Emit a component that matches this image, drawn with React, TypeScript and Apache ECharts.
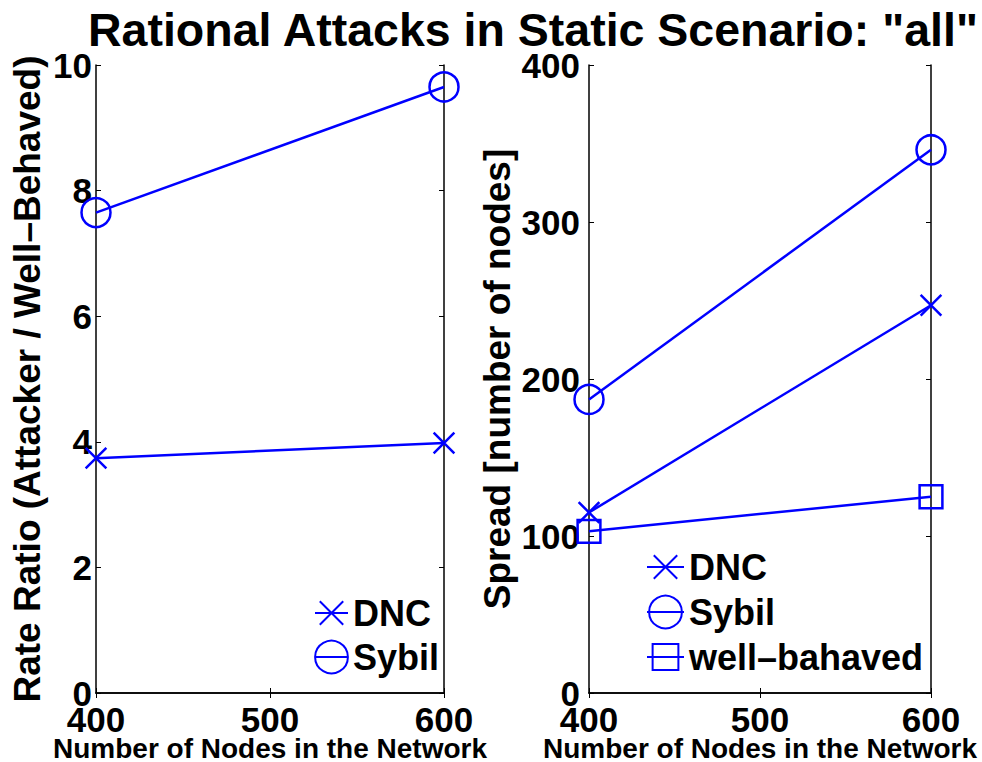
import React, { useEffect, useRef } from "react";
import * as echarts from "echarts";

const xValues = [400, 600];
const rateDNC = [3.74, 3.98];
const rateSybil = [7.65, 9.65];
const spreadDNC = [115, 247];
const spreadSybil = [187, 346];
const spreadWell = [103, 125];

const rateTicks = [0, 2, 4, 6, 8, 10];
const spreadTicks = [0, 100, 200, 300, 400];

const BLUE = "#0000ff";
const FONT = "Liberation Sans";
const CROSS = "path://M-7,-7M7,7M-5,-5L5,5M5,-5L-5,5";
const SQUARE = "path://M-7,-7M7,7M-5.5,-5.5L5.5,-5.5L5.5,5.5L-5.5,5.5Z";

function pts(ys: number[]) {
  return xValues.map((x, i) => [x, ys[i]]);
}

function makeSeries(name: string, ys: number[], symbol: string, idx: number) {
  return {
    type: "line",
    name,
    data: pts(ys),
    xAxisIndex: idx,
    yAxisIndex: idx,
    symbol,
    symbolSize: 29,
    clip: false,
    lineStyle: { color: BLUE, width: 2.5 },
    itemStyle: { color: "rgba(0,0,0,0)", borderColor: BLUE, borderWidth: 2.5 },
    emphasis: { disabled: true },
  };
}

export default function App() {
  const ref = useRef<HTMLDivElement>(null);
  useEffect(() => {
    if (!ref.current) return;
    const chart = echarts.init(ref.current, undefined, { renderer: "svg" });
    const labelStyle = { fontFamily: FONT, fontWeight: "bold", fontSize: 35, color: "#000" };
    const lineAx = { show: true, lineStyle: { color: "#000", width: 1.5 } };
    const tickAx = { show: true, inside: true, length: 5, lineStyle: { color: "#000", width: 1 } };
    const xAx = (gi: number) => ({
      type: "value",
      gridIndex: gi,
      min: 400,
      max: 600,
      interval: 100,
      position: "bottom",
      axisLine: lineAx,
      axisTick: tickAx,
      splitLine: { show: false },
      axisLabel: { ...labelStyle, margin: 9 },
      name: "Number of Nodes in the Network",
      nameLocation: "middle",
      nameGap: 41,
      nameMoveOverlap: false,
      nameTextStyle: { fontFamily: FONT, fontWeight: "bold", fontSize: 28, color: "#000" },
    });
    const xTop = (gi: number) => ({
      type: "value",
      gridIndex: gi,
      min: 400,
      max: 600,
      interval: 100,
      position: "top",
      axisLine: lineAx,
      axisTick: tickAx,
      splitLine: { show: false },
      axisLabel: { show: false },
    });
    const yAx = (gi: number, max: number, interval: number, name: string, gap: number, margin: number) => ({
      type: "value",
      gridIndex: gi,
      min: 0,
      max,
      interval,
      position: "left",
      axisLine: lineAx,
      axisTick: tickAx,
      splitLine: { show: false },
      axisLabel: { ...labelStyle, margin },
      name,
      nameLocation: "middle",
      nameGap: gap,
      nameMoveOverlap: false,
      nameTextStyle: { fontFamily: FONT, fontWeight: "bold", fontSize: 37, color: "#000" },
    });
    const yRight = (gi: number, max: number, interval: number) => ({
      type: "value",
      gridIndex: gi,
      min: 0,
      max,
      interval,
      position: "right",
      axisLine: lineAx,
      axisTick: tickAx,
      splitLine: { show: false },
      axisLabel: { show: false },
    });
    const legendText = { fontFamily: FONT, fontWeight: "bold", fontSize: 36, color: "#000" };
    chart.setOption({
      animation: false,
      backgroundColor: "#fff",
      title: {
        text: 'Rational Attacks in Static Scenario: "all"',
        left: 88,
        top: 6,
        padding: 0,
        textStyle: { fontFamily: FONT, fontWeight: "bold", fontSize: 46.5, color: "#000" },
      },
      grid: [
        { left: 96, top: 65, width: 348, height: 628, outerBoundsMode: "none", containLabel: false },
        { left: 589, top: 65, width: 342, height: 628, outerBoundsMode: "none", containLabel: false },
      ],
      xAxis: [xAx(0), xAx(1), xTop(0), xTop(1)],
      yAxis: [
        yAx(0, rateTicks[rateTicks.length - 1], rateTicks[1] - rateTicks[0], "Rate Ratio (Attacker / Well\u2013Behaved)", 50, 4),
        yAx(1, spreadTicks[spreadTicks.length - 1], spreadTicks[1] - spreadTicks[0], "Spread [number of nodes]", 73, 9),
        yRight(0, rateTicks[rateTicks.length - 1], rateTicks[1] - rateTicks[0]),
        yRight(1, spreadTicks[spreadTicks.length - 1], spreadTicks[1] - spreadTicks[0]),
      ],
      legend: [
        {
          orient: "vertical",
          left: 314,
          top: 595,
          padding: 0,
          itemWidth: 33,
          itemHeight: 41,
          itemGap: 8,
          textStyle: legendText,
          data: ["DNC", "Sybil"],
        },
        {
          orient: "vertical",
          left: 646,
          top: 549,
          padding: 0,
          itemWidth: 37,
          itemHeight: 41,
          itemGap: 9,
          textStyle: legendText,
          data: ["DNC ", "Sybil ", "well\u2013bahaved"],
          formatter: (n: string) => n.trim(),
        },
      ],
      series: [
        makeSeries("DNC", rateDNC, CROSS, 0),
        makeSeries("Sybil", rateSybil, "circle", 0),
        makeSeries("DNC ", spreadDNC, CROSS, 1),
        makeSeries("Sybil ", spreadSybil, "circle", 1),
        makeSeries("well\u2013bahaved", spreadWell, SQUARE, 1),
      ],
    });
    return () => chart.dispose();
  }, []);
  return (
    <div
      ref={ref}
      style={{ position: "fixed", left: 0, top: 0, width: 982, height: 762 }}
    />
  );
}
